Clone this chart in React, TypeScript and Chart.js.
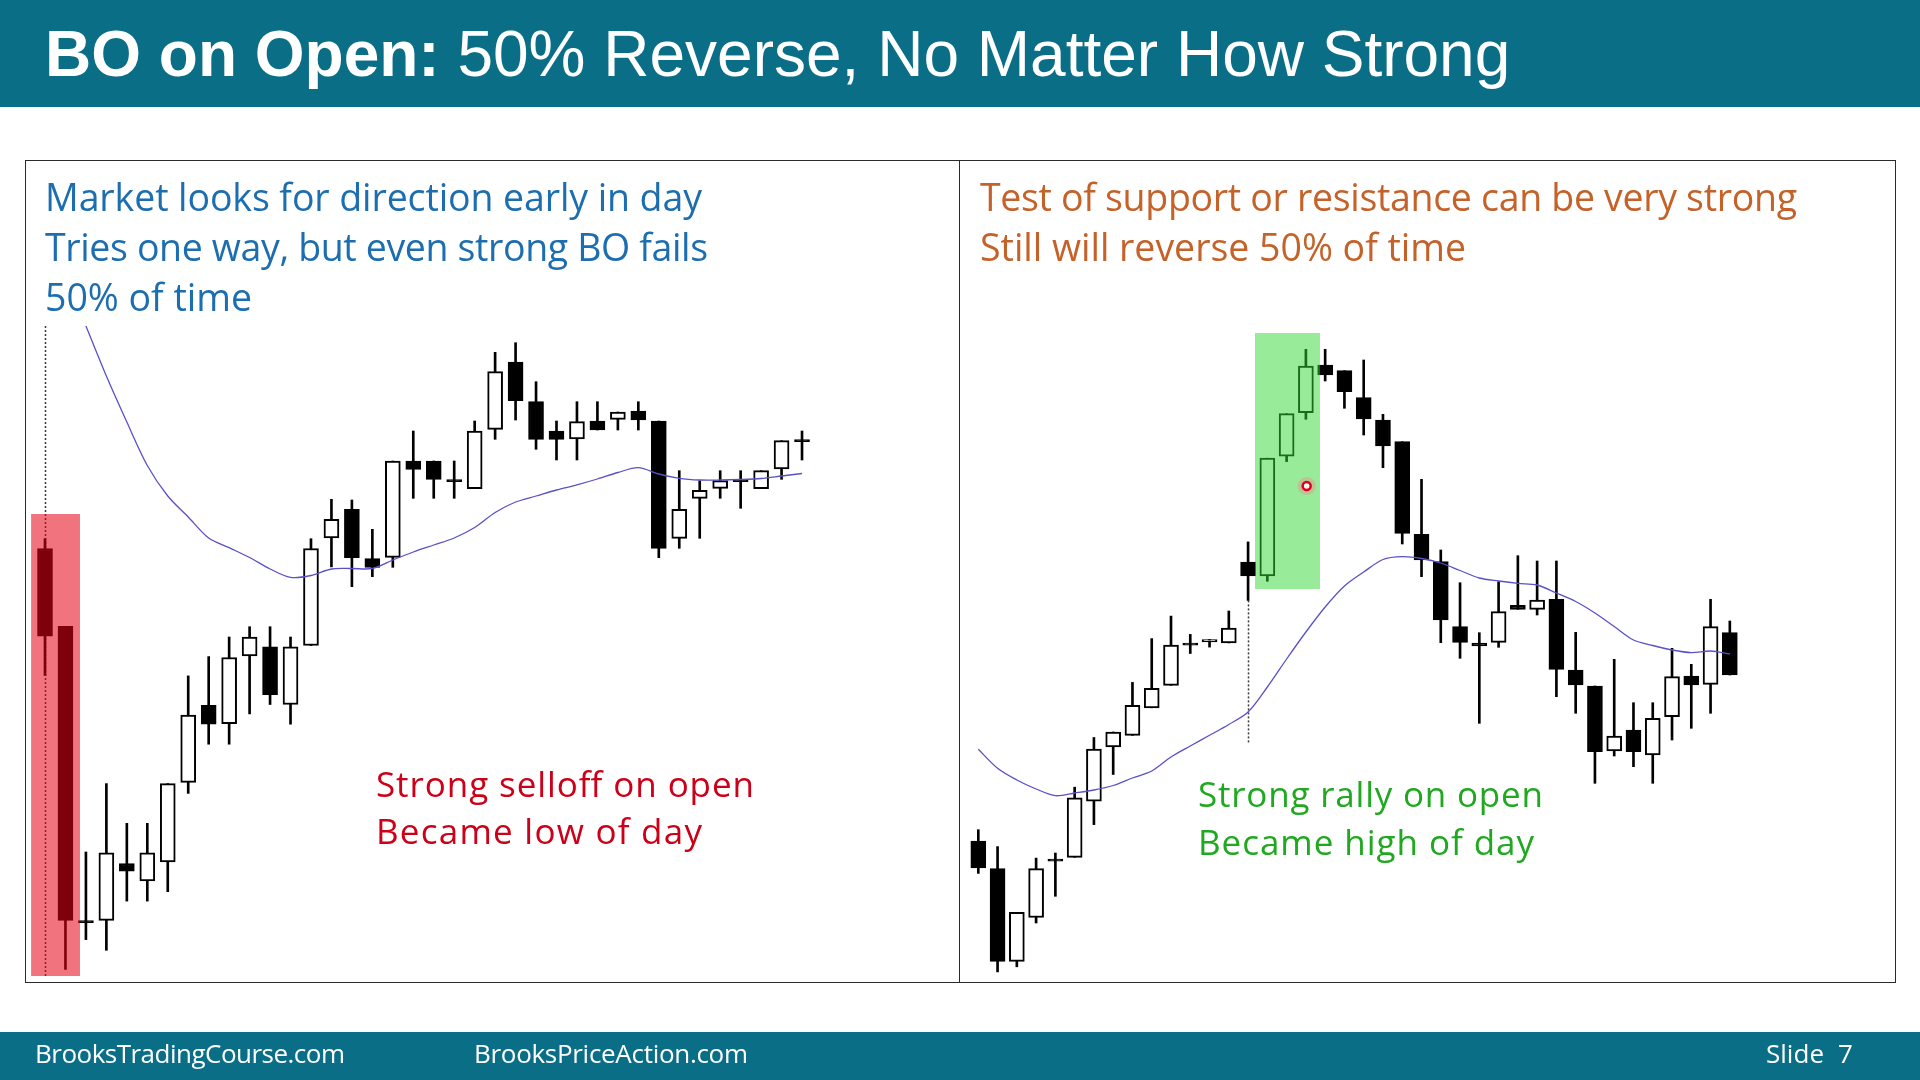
import React, { useEffect, useRef } from "react";
import { Chart, registerables } from "chart.js";

Chart.register(...registerables);

// ---------- Left panel: strong selloff on open (prices) ----------
const leftOpen = [451.5, 373.7, 78.4, 79.7, 136.5, 119, 138.2, 217.7, 294.6, 276.3, 344.2, 353.2, 295.5, 354.5, 462.2, 490.7, 441.3, 442.7, 539, 539, 519.3, 511.3, 570.7, 638, 598.3, 569, 561, 579, 580.7, 589, 579, 461.7, 501.7, 511.7, 519.3, 511.3, 531, 559.3];
const leftHigh = [461.3, 373.7, 148, 216.4, 176.7, 176.7, 216.4, 324.1, 343.4, 363, 373.3, 373.3, 363, 461.3, 500.7, 500, 470.7, 539, 569, 539, 539, 579, 647.7, 657.3, 618.3, 579, 598.3, 598.3, 588, 598.3, 579, 529.3, 519.3, 529.3, 529.3, 529.3, 559.3, 569];
const leftLow = [324.6, 30.5, 60.4, 49.7, 98.9, 98.9, 108.3, 206.6, 255.8, 255.8, 286.1, 295.5, 275.8, 354.5, 433.1, 413.3, 423.3, 432.7, 501.7, 501.7, 501.7, 511.3, 560.7, 580, 550.7, 540, 540, 570, 570, 570, 442.3, 451.7, 461.7, 501.7, 491.7, 511.3, 520.7, 540];
const leftClose = [363.9, 79.7, 78.4, 147.2, 128.8, 147.2, 216.4, 284.8, 275.8, 342.5, 363, 305.3, 353.2, 451.5, 480.6, 442.3, 432.7, 539, 530.7, 520.7, 519.3, 569, 628.3, 599.3, 560.7, 560.7, 578.3, 570, 588, 580, 451.7, 490.7, 509.7, 519.3, 519.3, 529.3, 559.3, 559.3];
const leftEma = [null, null, 674, 624, 578, 534.5, 504, 483, 462, 452.3, 442.5, 431, 422.6, 424.5, 431, 431.5, 431.5, 440, 448, 455, 462, 472.5, 487.5, 498, 504, 510, 515.2, 521, 527.5, 532.3, 526, 521.7, 520, 520, 520.5, 521.5, 524, 526.5];
const leftHighlight = { fromBar: -0.68, toBar: 1.71, top: 486, bottom: 24 };
const leftGuide = { bar: 0, from: 674, to: 24 };

// ---------- Right panel: strong rally on open ----------
const rightOpen = [158.9, 131.3, 38.7, 82.5, 139.8, 142.7, 198.8, 253.1, 264.6, 292.2, 314.7, 355.8, 358, 357.1, 437.8, 424.2, 543.9, 587.3, 635, 629.3, 602.3, 580, 558.3, 465.7, 438.3, 373.3, 357, 357.7, 394.7, 390.7, 400.7, 330, 314, 249, 270, 245, 283.3, 324, 315.7, 367.3];
const rightHigh = [170.3, 153.4, 87.6, 141.9, 147, 212.8, 262.5, 268, 317.6, 361.4, 383.9, 365.6, 360.5, 389, 458.1, 541.8, 586.3, 650.7, 650.7, 629.3, 640, 585.7, 558.3, 520.7, 450, 417.3, 367.3, 418.3, 444.3, 439, 439, 367.7, 314, 340.7, 297.3, 297.3, 351.7, 335.7, 400.7, 379];
const rightLow = [126.6, 28.1, 33.2, 77, 103.7, 142.7, 175.4, 225.5, 264.6, 292.2, 314.7, 346.5, 352.9, 357.1, 399.6, 418.7, 538.4, 580.7, 619, 591.7, 565, 532.3, 456, 423.3, 357.3, 341.7, 276.7, 352.7, 390.7, 385, 303.3, 286.7, 216.7, 244, 233.3, 216.7, 260, 271.7, 286.7, 325];
const rightClose = [132.1, 38.7, 87.6, 131.3, 139.8, 202.2, 251, 268, 294.7, 311.7, 355, 355.8, 360.5, 372, 424.2, 541.8, 586.3, 634, 625, 608.3, 581, 554, 466.7, 440, 380, 357.7, 354, 388.3, 390.7, 400, 330.7, 315, 248.3, 264, 248.3, 281.7, 323.3, 315, 373.3, 325];
const rightEma = [250.7, 231.7, 220, 211, 204.3, 207, 210, 214.5, 222, 229, 243, 254, 264.7, 275.5, 288, 313, 341, 368, 393, 414, 428, 440.5, 443.3, 441.5, 437, 429.5, 422, 419, 416.6, 415, 407, 398.5, 387, 373.5, 360, 354.5, 350, 347.4, 349, 346];
const rightHighlight = { fromBar: 14.36, toBar: 17.73, top: 667, bottom: 411 };
const rightGuide = { bar: 14, from: 399.6, to: 257.4 };
const rightCursor = { bar: 17.04, price: 514 };

// ---------- Texts ----------
const titleBold = "BO on Open:";
const titleRest = " 50% Reverse, No Matter How Strong";
const leftNotes = ["Market looks for direction early in day", "Tries one way, but even strong BO fails", "50% of time"];
const rightNotes = ["Test of support or resistance can be very strong", "Still will reverse 50% of time"];
const leftCallout = ["Strong selloff on open", "Became low of day"];
const rightCallout = ["Strong rally on open", "Became high of day"];
const footerLeft = "BrooksTradingCourse.com";
const footerMid = "BrooksPriceAction.com";

const TEAL = "#0B6E87";

const overlayPlugin = {
  id: "overlays",
  beforeDatasetsDraw(chart: any, _args: any, opts: any) {
    const { ctx, scales } = chart;
    const x = scales.x, y = scales.y;
    const g = opts.guide;
    if (g) {
      ctx.save();
      ctx.strokeStyle = "#3a3a3a";
      ctx.lineWidth = 1.5;
      ctx.setLineDash([2, 2]);
      const px = Math.round(x.getPixelForValue(g.bar)) + 0.5;
      ctx.beginPath();
      ctx.moveTo(px, y.getPixelForValue(g.from));
      ctx.lineTo(px, y.getPixelForValue(g.to));
      ctx.stroke();
      ctx.restore();
    }
  },
  afterDatasetsDraw(chart: any, _args: any, opts: any) {
    const { ctx, scales } = chart;
    const x = scales.x, y = scales.y;
    const h = opts.highlight;
    if (h) {
      const x0 = x.getPixelForValue(h.fromBar);
      const x1 = x.getPixelForValue(h.toBar);
      const y0 = y.getPixelForValue(h.top);
      const y1 = y.getPixelForValue(h.bottom);
      ctx.save();
      ctx.fillStyle = opts.highlightColor;
      ctx.fillRect(x0, y0, x1 - x0, y1 - y0);
      ctx.restore();
    }
    const c = opts.cursor;
    if (c) {
      const px = x.getPixelForValue(c.bar);
      const py = y.getPixelForValue(c.price);
      ctx.save();
      ctx.fillStyle = "rgba(255,120,140,0.35)";
      ctx.beginPath();
      ctx.arc(px, py, 9, 0, Math.PI * 2);
      ctx.fill();
      ctx.fillStyle = "#ffffff";
      ctx.strokeStyle = "#e0001a";
      ctx.lineWidth = 2.5;
      ctx.beginPath();
      ctx.arc(px, py, 4, 0, Math.PI * 2);
      ctx.fill();
      ctx.stroke();
      ctx.restore();
    }
  },
};

type CandleProps = {
  open: number[]; high: number[]; low: number[]; close: number[]; ema: (number | null)[];
  left: number; top: number; width: number; height: number;
  firstBarPx: number; barStep: number; yMin: number; yMax: number;
  highlight: any; highlightColor: string; guide: any; cursor?: any;
};

function CandleChart(p: CandleProps) {
  const ref = useRef<HTMLCanvasElement>(null);
  useEffect(() => {
    if (!ref.current) return;
    const bodies = p.open.map((o, i) => {
      const c = p.close[i];
      let lo = Math.min(o, c), hi = Math.max(o, c);
      if (hi - lo < 2) { const m = (hi + lo) / 2; lo = m - 1; hi = m + 1; }
      return { x: i, y: [lo, hi] };
    });
    const fills = p.open.map((o, i) => (p.close[i] - o >= 2 ? "#ffffff" : "#000000"));
    const wicks = p.open.map((_, i) => ({ x: i, y: [p.low[i], p.high[i]] }));
    const emaPts = p.ema.map((v, i) => ({ x: i, y: v })).filter((d) => d.y !== null);
    const xMin = -(p.firstBarPx - p.left) / p.barStep;
    const xMax = xMin + p.width / p.barStep;
    const chart = new Chart(ref.current, {
      type: "bar",
      data: {
        datasets: [
          { type: "line", data: emaPts as any, borderColor: "#5a50c8", borderWidth: 1.3, pointRadius: 0, tension: 0.3, order: 0 } as any,
          { type: "bar", data: bodies as any, backgroundColor: fills, borderColor: "#000000", borderWidth: 2, borderSkipped: false, barThickness: 15, grouped: false, order: 1 } as any,
          { type: "bar", data: wicks as any, backgroundColor: "#000000", borderWidth: 0, barThickness: 2, grouped: false, order: 2 } as any,
        ],
      },
      options: {
        responsive: false,
        animation: false,
        devicePixelRatio: 1,
        events: [],
        layout: { padding: 0 },
        plugins: {
          legend: { display: false },
          tooltip: { enabled: false },
          overlays: { highlight: p.highlight, highlightColor: p.highlightColor, guide: p.guide, cursor: p.cursor },
        } as any,
        scales: {
          x: { type: "linear", min: xMin, max: xMax, display: false, offset: false },
          y: { type: "linear", min: p.yMin, max: p.yMax, display: false },
        },
      },
      plugins: [overlayPlugin as any],
    });
    return () => chart.destroy();
  }, []);
  return (
    <canvas
      ref={ref}
      width={p.width}
      height={p.height}
      style={{ position: "absolute", left: p.left, top: p.top, width: p.width, height: p.height }}
    />
  );
}

function Line(props: { x: number; y: number; w: number; size: number; color: string; text: string }) {
  return (
    <text x={props.x} y={props.y} fill={props.color} fontFamily="'Open Sans', Lato, sans-serif"
      fontSize={props.size} textLength={props.w} lengthAdjust="spacing">{props.text}</text>
  );
}

export default function App() {
  const leftNoteW = [657, 663, 207];
  const rightNoteW = [817, 486];
  const leftCallW = [378, 326];
  const rightCallW = [345, 336];
  return (
    <div style={{ position: "fixed", left: 0, top: 0, width: 1920, height: 1080, background: "#ffffff", overflow: "hidden" }}>
      <div style={{ position: "absolute", left: 0, top: 0, width: 1920, height: 107, background: TEAL }} />
      <div style={{ position: "absolute", left: 0, top: 1032, width: 1920, height: 48, background: TEAL }} />

      <CandleChart open={leftOpen} high={leftHigh} low={leftLow} close={leftClose} ema={leftEma}
        left={26} top={160} width={934} height={823} firstBarPx={45} barStep={20.46} yMin={17} yMax={840}
        highlight={leftHighlight} highlightColor="rgba(230,0,20,0.55)" guide={leftGuide} />
      <CandleChart open={rightOpen} high={rightHigh} low={rightLow} close={rightClose} ema={rightEma}
        left={960} top={160} width={935} height={823} firstBarPx={978.3} barStep={19.27} yMin={17} yMax={840}
        highlight={rightHighlight} highlightColor="rgba(50,215,50,0.5)" guide={rightGuide} cursor={rightCursor} />

      <div style={{ position: "absolute", left: 25, top: 160, width: 935, height: 823, border: "1.5px solid #2a2a2a", boxSizing: "border-box" }} />
      <div style={{ position: "absolute", left: 959, top: 160, width: 937, height: 823, border: "1.5px solid #2a2a2a", boxSizing: "border-box" }} />

      <svg width={1920} height={1080} style={{ position: "absolute", left: 0, top: 0 }}>
        <text x={45} y={76} fill="#ffffff" fontFamily="'Liberation Sans', Arial, sans-serif" fontSize={64}>
          <tspan fontWeight="bold">{titleBold}</tspan>
          <tspan xmlSpace="preserve">{titleRest}</tspan>
        </text>

        {leftNotes.map((t, i) => (
          <Line key={"ln" + i} x={45} y={211 + i * 50} w={leftNoteW[i]} size={37.5} color="#1C6EB0" text={t} />
        ))}
        {rightNotes.map((t, i) => (
          <Line key={"rn" + i} x={980} y={211 + i * 50} w={rightNoteW[i]} size={37.5} color="#C4622A" text={t} />
        ))}
        {leftCallout.map((t, i) => (
          <Line key={"lc" + i} x={376} y={797 + i * 47} w={leftCallW[i]} size={35} color="#CC0018" text={t} />
        ))}
        {rightCallout.map((t, i) => (
          <Line key={"rc" + i} x={1198} y={807 + i * 48} w={rightCallW[i]} size={35} color="#20A820" text={t} />
        ))}

        <Line x={35} y={1063} w={310} size={26} color="#ffffff" text={footerLeft} />
        <Line x={474} y={1063} w={274} size={26} color="#ffffff" text={footerMid} />
        <Line x={1766} y={1063} w={58} size={26} color="#ffffff" text="Slide" />
        <Line x={1838} y={1063} w={13} size={26} color="#ffffff" text="7" />
      </svg>
    </div>
  );
}
